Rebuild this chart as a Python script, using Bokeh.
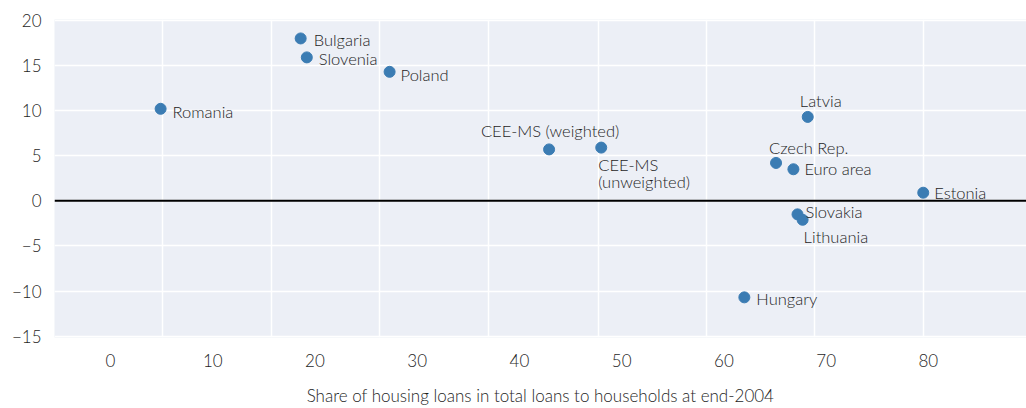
from bokeh.plotting import figure
from bokeh.models import ColumnDataSource, FixedTicker, Span, Range1d
from bokeh.embed import file_html
from bokeh.resources import INLINE
from bokeh.core.properties import value

# ---- data ----
countries = ["Romania", "Bulgaria", "Slovenia", "Poland", "CEE-MS (weighted)",
             "CEE-MS\n(unweighted)", "Latvia", "Czech Rep.", "Euro area",
             "Estonia", "Slovakia", "Lithuania", "Hungary"]
housing_share = [4.9, 18.6, 19.2, 27.3, 42.9, 48.0, 68.2, 65.1, 66.8, 79.5, 67.2, 67.7, 62.0]
change = [10.2, 18.0, 15.9, 14.3, 5.7, 5.9, 9.3, 4.2, 3.5, 0.9, -1.5, -2.1, -10.7]
x_ticks = [0, 10, 20, 30, 40, 50, 60, 70, 80]
y_ticks = [-15, -10, -5, 0, 5, 10, 15, 20]

# ---- label placement (style) ----
label_dx = [12, 13, 12, 11, 1, -3, 13, -7, 11, 11, 8, 1, 12]
label_dy = [3, 2, 2, 3, -18, 26, -16, -15, 0, 0, -2, 17, 2]
label_align = ["left", "left", "left", "left", "center", "left", "center",
               "left", "left", "left", "left", "left", "left"]

FONT = "'Lato Light', Lato"
TXT = "#1e1e1e"

src = ColumnDataSource(dict(x=housing_share, y=change, label=countries,
                            dx=label_dx, dy=label_dy, align=label_align))

p = figure(width=1026, height=408, output_backend="svg", toolbar_location=None,
           x_range=Range1d(-5.48, 89.6), y_range=Range1d(-15.15, 20.1),
           min_border_left=54, min_border_right=0, min_border_top=19,
           min_border_bottom=71)
p.background_fill_color = "#ECEFF6"
p.border_fill_color = "white"
p.outline_line_color = None

p.xaxis.ticker = FixedTicker(ticks=x_ticks)
p.yaxis.ticker = FixedTicker(ticks=y_ticks)
p.xgrid.ticker = FixedTicker(ticks=[5.1, 15.75, 26.35, 37.0, 47.7, 58.3, 68.9, 79.55])
p.xgrid.grid_line_color = "white"
p.xgrid.grid_line_width = 1.5
p.ygrid.grid_line_color = "white"
p.ygrid.grid_line_width = 1.5

p.yaxis.major_label_overrides = {-15: "\u221215", -10: "\u221210", -5: "\u22125"}
for ax in (p.xaxis, p.yaxis):
    ax.axis_line_color = None
    ax.major_tick_line_color = None
    ax.minor_tick_line_color = None
    ax.major_tick_out = 0
    ax.major_tick_in = 0
    ax.major_label_text_font = FONT
    ax.major_label_text_font_size = "17px"
    ax.major_label_text_color = TXT
p.yaxis.major_label_standoff = 13
p.xaxis.major_label_standoff = 16
p.xaxis.axis_label = "Share of housing loans in total loans to households at end-2004"
p.xaxis.axis_label_text_font = FONT
p.xaxis.axis_label_text_font_size = "17px"
p.xaxis.axis_label_text_font_style = "normal"
p.xaxis.axis_label_text_color = TXT
p.xaxis.axis_label_standoff = 15

p.add_layout(Span(location=0, dimension="width", line_color="black", line_width=2))

p.scatter(x="x", y="y", source=src, size=11, fill_color="#3B7CB3",
          line_color="#3B7CB3")
p.text(x="x", y="y", text="label", x_offset="dx", y_offset="dy",
       text_align="align", text_baseline="middle", source=src,
       text_font=value(FONT), text_font_size="16.5px", text_color=TXT,
       text_line_height=0.85)

open("out.html", "w").write(file_html(p, INLINE))
